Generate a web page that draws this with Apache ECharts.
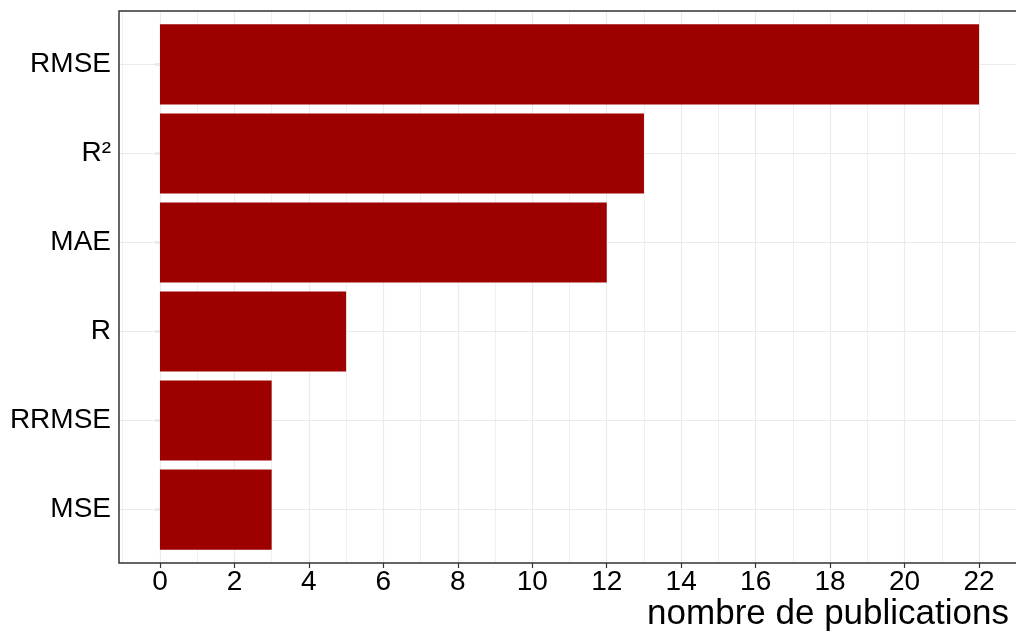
<!DOCTYPE html>
<html>
<head>
<meta charset="utf-8">
<script src="https://cdn.jsdelivr.net/npm/echarts@6/dist/echarts.min.js"></script>
<style>html,body{margin:0;padding:0;background:#fff}#c{width:1016px;height:633px}</style>
</head>
<body>
<div id="c"></div>
<script>
const categories = ['RMSE', 'R²', 'MAE', 'R', 'RRMSE', 'MSE'];
const publications = [22, 13, 12, 5, 3, 3];
const xTicks = [0, 2, 4, 6, 8, 10, 12, 14, 16, 18, 20, 22];
const xMinorBreaks = [-1, 1, 3, 5, 7, 9, 11, 13, 15, 17, 19, 21, 23];
const xAxisTitle = 'nombre de publications';

const FONT = '"Liberation Sans", Arial, Helvetica, sans-serif';

// panel layout (ggplot-like discrete expansion of 0.6 band on each side)
const PANEL = { left: 119, top: 11, width: 901, height: 552 };
const expandBands = 0.6;
const unit = PANEL.height / (categories.length + 2 * expandBands - 1);
const innerTop = PANEL.top + (expandBands - 0.5) * unit;
const innerHeight = unit * categories.length;

const vLines = []
  .concat(xMinorBreaks.map(v => ({ xAxis: v, lineStyle: { color: '#F0F0F0', width: 1, type: 'solid' } })))
  .concat(xTicks.map(v => ({ xAxis: v, lineStyle: { color: '#EBEBEB', width: 1.2, type: 'solid' } })));
const hLines = categories.map(c => ({ yAxis: c, lineStyle: { color: '#EBEBEB', width: 1.2, type: 'solid' } }));

const chart = echarts.init(document.getElementById('c'), null, { renderer: 'canvas' });
chart.setOption({
  animation: false,
  backgroundColor: '#ffffff',
  title: {
    text: xAxisTitle,
    right: 7,
    top: 597,
    padding: 0,
    textStyle: { fontSize: 35, fontWeight: 'normal', color: '#000', fontFamily: FONT }
  },
  grid: [
    { left: PANEL.left, top: PANEL.top, width: PANEL.width, height: PANEL.height,
      outerBoundsMode: 'none', containLabel: false,
      show: true, borderColor: '#333333', borderWidth: 1.5, backgroundColor: 'transparent', z: 3 },
    { left: PANEL.left, top: innerTop, width: PANEL.width, height: innerHeight,
      outerBoundsMode: 'none', containLabel: false, show: false }
  ],
  xAxis: [{
    gridIndex: 0,
    type: 'value',
    min: -1.1,
    max: 23.1,
    axisLine: { show: false },
    splitLine: { show: false },
    axisTick: { show: true, customValues: xTicks, length: 5, lineStyle: { color: '#333333', width: 1.2 } },
    axisLabel: { customValues: xTicks, fontSize: 28, color: '#000', fontFamily: FONT, margin: 5 }
  }, {
    gridIndex: 1,
    type: 'value',
    min: -1.1,
    max: 23.1,
    show: false,
    splitLine: { show: false }
  }],
  yAxis: [{
    gridIndex: 0,
    type: 'value',
    min: 0,
    max: 1,
    show: false,
    splitLine: { show: false }
  }, {
    gridIndex: 1,
    type: 'category',
    data: categories,
    inverse: true,
    axisLine: { show: false },
    splitLine: { show: false },
    axisTick: { show: true, alignWithLabel: true, length: 5, lineStyle: { color: '#333333', width: 1.2 } },
    axisLabel: { fontSize: 28, color: '#000', fontFamily: FONT, margin: 8 }
  }],
  series: [{
    type: 'scatter',
    xAxisIndex: 0,
    yAxisIndex: 0,
    data: [],
    silent: true,
    z: 1,
    markLine: {
      silent: true,
      z: 1,
      symbol: ['none', 'none'],
      label: { show: false },
      emphasis: { disabled: true },
      animation: false,
      data: vLines
    }
  }, {
    type: 'bar',
    xAxisIndex: 1,
    yAxisIndex: 1,
    data: publications,
    barWidth: '90%',
    itemStyle: { color: '#9E0000' },
    z: 2,
    silent: true,
    markLine: {
      silent: true,
      z: 1,
      symbol: ['none', 'none'],
      label: { show: false },
      emphasis: { disabled: true },
      animation: false,
      data: hLines
    }
  }]
});
</script>
</body>
</html>
